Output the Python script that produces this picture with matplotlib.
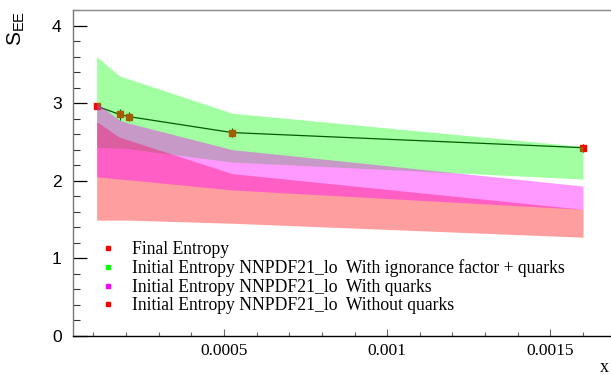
import matplotlib
matplotlib.use('Agg')
from matplotlib import pyplot as plt
from matplotlib.lines import Line2D
from matplotlib.ticker import MultipleLocator

# Bjorken x of the points
x_vals = [0.00011, 0.00018, 0.00021, 0.000525, 0.0016]

# final entropy with errors
s_final = [2.96, 2.855, 2.825, 2.62, 2.425]
s_err = [0.03, 0.07, 0.06, 0.06, 0.05]

# initial entropy bands (upper / lower edges)
green_hi = [3.60, 3.35, 3.31, 2.87, 2.44]
green_lo = [2.43, 2.42, 2.41, 2.24, 2.02]
mag_hi = [3.00, 2.78, 2.74, 2.40, 1.93]
mag_lo = [2.05, 2.02, 2.01, 1.88, 1.63]
red_hi = [2.76, 2.56, 2.52, 2.09, 1.63]
red_lo = [1.49, 1.49, 1.49, 1.45, 1.27]

labels = ['Final Entropy',
          'Initial Entropy NNPDF21_lo  With ignorance factor + quarks',
          'Initial Entropy NNPDF21_lo  With quarks',
          'Initial Entropy NNPDF21_lo  Without quarks']
colors = ['#ff0000', '#00ff00', '#ff00ff', '#ff0000']

serif = 'Liberation Serif'
sans = 'Liberation Sans'

fig = plt.figure(figsize=(6.11, 3.75), dpi=100)
ax = fig.add_axes([0.119, 0.105, 0.886, 0.868])

# points and line first, bands drawn over them
ax.plot(x_vals, s_final, color='black', lw=0.9, zorder=1)
ax.errorbar(x_vals, s_final, yerr=s_err, fmt='s', ms=4, color='red',
            ecolor='black', elinewidth=0.8, capsize=0, zorder=2)

ax.fill_between(x_vals, green_lo, green_hi, color='#00ff00', alpha=0.37, lw=0, zorder=3)
ax.fill_between(x_vals, red_lo, red_hi, color='#ff0000', alpha=0.38, lw=0, zorder=4)
ax.fill_between(x_vals, mag_lo, mag_hi, color='#ff00ff', alpha=0.40, lw=0, zorder=5)

ax.set_xlim(0.0000366, 0.001695)
ax.set_ylim(0, 4.2)

ax.xaxis.set_major_locator(MultipleLocator(0.0005))
ax.xaxis.set_minor_locator(MultipleLocator(0.0001))
ax.yaxis.set_major_locator(MultipleLocator(1))
ax.yaxis.set_minor_locator(MultipleLocator(0.2))
ax.set_xticks([0.0005, 0.001, 0.0015])
ax.set_xticklabels(['0.0005', '0.001', '0.0015'], fontfamily=serif, fontsize=12.5)
ax.set_yticks([0, 1, 2, 3, 4])
ax.set_yticklabels(['0', '1', '2', '3', '4'], fontfamily=sans, fontsize=12.5)

ax.tick_params(axis='x', which='major', direction='in', length=5, width=0.8,
               color='#666666', pad=5, top=False)
ax.tick_params(axis='x', which='minor', direction='in', length=3, width=0.8,
               color='#666666', top=False)
ax.tick_params(axis='y', which='major', direction='in', length=10, width=0.9,
               color='black', pad=8, right=False)
ax.tick_params(axis='y', which='minor', direction='in', length=5, width=0.8,
               color='#333333', right=False)

ax.spines['right'].set_visible(False)
ax.spines['left'].set_color('#777777')
ax.spines['top'].set_color('#888888')
ax.spines['bottom'].set_color('black')
for s in ax.spines.values():
    s.set_linewidth(1.0)

handles = [Line2D([], [], marker='s', ls='none', color=c, ms=2.2) for c in colors]
ax.legend(handles, labels, loc='upper left', bbox_to_anchor=(0.162, 0.357),
          bbox_transform=fig.transFigure, frameon=False, borderpad=0,
          borderaxespad=0, handlelength=1.0, handletextpad=0.9, labelspacing=0.08,
          prop={'family': serif, 'size': 12.7})

fig.text(0.027, 0.97, r'$\mathregular{S_{EE}}$', rotation=90, ha='center', va='top',
         fontfamily=sans, fontsize=15)
fig.text(0.997, 0.009, 'x', ha='right', va='baseline', fontfamily=serif, fontsize=13)

fig.savefig('out.png', dpi=100)
